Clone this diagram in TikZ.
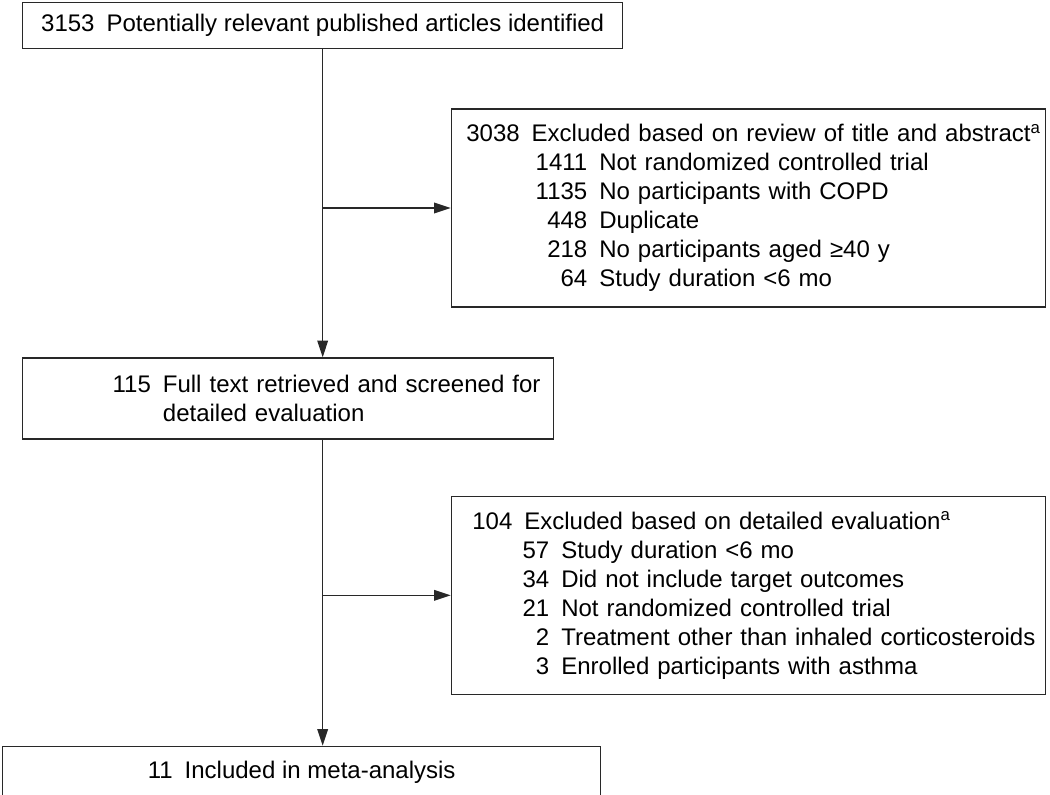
\documentclass[tikz,border=0pt]{standalone}
\usepackage{fontspec}
\setmainfont{Liberation Sans}
\usetikzlibrary{arrows.meta}
\usetikzlibrary{positioning}
\usepackage{xcolor}
\definecolor{linegray}{RGB}{40,40,40}

\newcommand{\gp}{\hspace{0.5em}}
\newcommand{\subA}[2]{\makebox[90.75pt][r]{#1}\gp #2}
\newcommand{\subB}[2]{\makebox[57.75pt][r]{#1}\gp #2}

\begin{document}
\begin{tikzpicture}[font=\fontsize{18}{21.75}\selectfont]

	\tikzstyle{block} = [rectangle, draw=linegray, line width=1pt, inner sep=0pt, align=center]
	\tikzstyle{exblock} = [rectangle, draw=linegray, line width=1pt, inner sep=0pt, align=left, text width=445.5pt, minimum height=148.5pt]
	\tikzstyle{line} = [draw=linegray, line width=1pt, -{Triangle[length=12.5pt,width=8pt]}]

	\useasboundingbox (0,0) rectangle (787.5pt,-596.25pt);

	% identified
	\node [block,anchor=north west,minimum width=450pt,minimum height=34.5pt] (b1) at (16.5pt,-1.5pt) {3153\gp Potentially relevant published articles identified};

	% first exclusion
	\node [exblock,below=44.25pt of b1.south,anchor=north west,xshift=96pt] (e1) {\leftskip=11.25pt\hyphenpenalty=10000
		3038\gp Excluded based on review of title and abstract\textsuperscript{a}\\
		\subA{1411}{Not randomized controlled trial}\\
		\subA{1135}{No participants with COPD}\\
		\subA{448}{Duplicate}\\
		\subA{218}{No participants aged ≥40 y}\\
		\subA{64}{Study duration <6 mo}\par};

	% full text
	\node [block,below=231pt of b1.south west,anchor=north west,text width=398.25pt,minimum height=60.75pt,align=left] (b2) {\hspace*{67.5pt}115\gp Full text retrieved and screened for\\
		\hspace*{67.5pt}\phantom{115}\gp detailed evaluation};

	% second exclusion
	\node [exblock,below=141pt of e1.south west,anchor=north west] (e2) {\leftskip=15.75pt\hyphenpenalty=10000
		104\gp Excluded based on detailed evaluation\textsuperscript{a}\\
		\subB{57}{Study duration <6 mo}\\
		\subB{34}{Did not include target outcomes}\\
		\subB{21}{Not randomized controlled trial}\\
		\subB{2}{Treatment other than inhaled corticosteroids}\\
		\subB{3}{Enrolled participants with asthma}\par};

	% included
	\node [block,below=229.5pt of b2.south west,anchor=north west,xshift=-15pt,minimum width=448.5pt,minimum height=39pt] (fin) {11\gp Included in meta-analysis};

	% Arrows
	\draw [line] (b1.south) -- (b1.south |- b2.north);
	\draw [line] (b1.south |- b2.south) -- (b1.south |- fin.north);
	\draw [line] (b1.south |- e1.west) -- (e1.west);
	\draw [line] (b1.south |- e2.west) -- (e2.west);

\end{tikzpicture}
\end{document}
